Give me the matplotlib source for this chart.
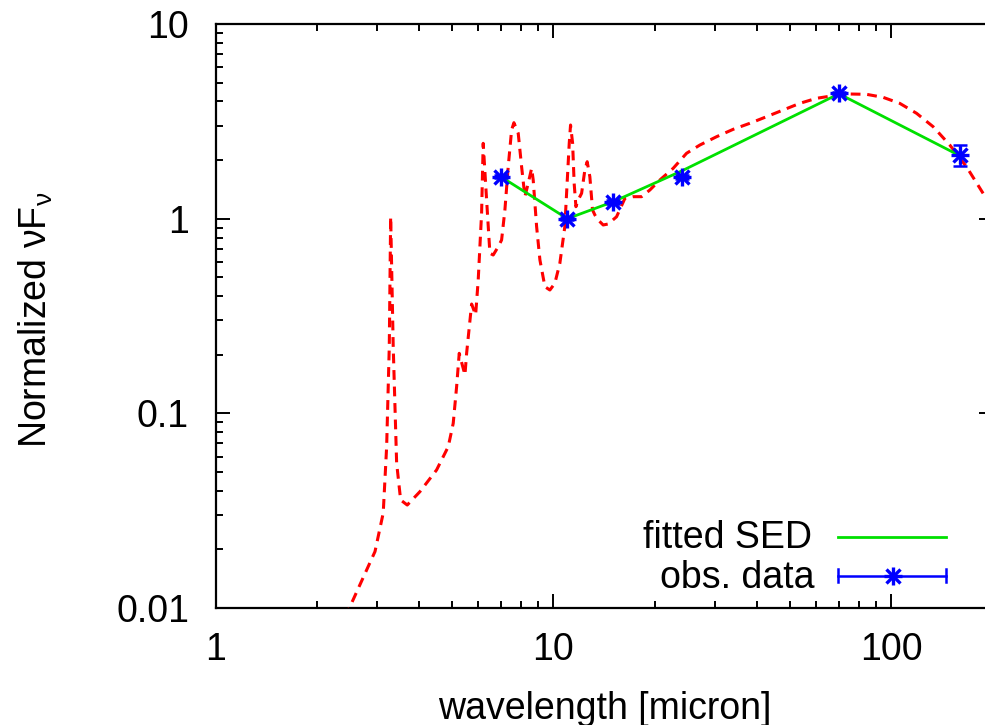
import matplotlib
matplotlib.use("Agg")
import matplotlib.pyplot as plt
from matplotlib.ticker import FuncFormatter, NullFormatter, LogLocator

plt.rcParams['font.family'] = ['Liberation Sans', 'DejaVu Sans']
plt.rcParams['mathtext.default'] = 'regular'

# model SED (red dashed)
sed_wave = [2.42, 2.50, 2.965, 3.136, 3.210, 3.268, 3.299, 3.357, 3.436, 3.531, 3.694,
            4.027, 4.512, 4.884, 5.053, 5.171, 5.264, 5.473, 5.537, 5.728, 5.886,
            5.991, 6.131, 6.198, 6.344, 6.488, 6.636, 6.866, 7.026, 7.186, 7.35,
            7.522, 7.641, 7.869, 8.052, 8.235, 8.423, 8.621, 8.715, 8.92, 9.123,
            9.438, 9.763, 10.10, 10.45, 10.81, 10.98, 11.14, 11.24, 11.40, 11.52,
            11.66, 11.84, 12.12, 12.39, 12.59, 12.82, 13.06, 13.27, 13.57, 14.04,
            14.53, 15.38, 16.28, 17.22, 18.24, 19.30, 20.66, 22.62, 24.78, 27.13,
            30.40, 34.04, 38.14, 42.74, 47.86, 53.62, 60.06, 67.27, 75.37, 84.45,
            94.56, 105.9, 118.8, 133.0, 149.0, 166.9, 186.9, 202.5]
sed_flux = [0.0090, 0.01015, 0.0195, 0.03076, 0.0674, 0.2199, 1.023, 0.2199, 0.0556, 0.0359, 0.0338,
            0.0396, 0.0512, 0.0674, 0.0889, 0.137, 0.2034, 0.1574, 0.2041, 0.3643, 0.3199,
            0.484, 1.069, 2.438, 1.247, 0.664, 0.6506, 0.7178, 0.777, 1.108, 1.849,
            2.854, 3.112, 2.745, 1.849, 1.297, 1.519, 1.814, 1.580, 0.909, 0.6133,
            0.4471, 0.430, 0.4656, 0.5899, 0.909, 1.519, 2.438, 3.028, 2.438, 1.519,
            1.152, 1.247, 1.350, 1.778, 1.962, 1.643, 1.108, 1.044, 0.984, 0.928,
            0.939, 1.023, 1.272, 1.297, 1.297, 1.404, 1.580, 1.814, 2.167, 2.389,
            2.636, 2.877, 3.090, 3.341, 3.616, 3.913, 4.152, 4.282, 4.369, 4.353,
            4.201, 3.913, 3.477, 2.968, 2.389, 1.849, 1.350, 1.082]

# fitted SED at band wavelengths (green)
band_wave = [7, 11, 15, 24, 70, 160]
fit_flux = [1.64, 1.0, 1.22, 1.76, 4.38, 2.10]

# observed data (blue)
obs_flux = [1.64, 1.0, 1.22, 1.64, 4.40, 2.12]
obs_err = [0.03, 0.02, 0.03, 0.04, 0.10, 0.26]

xticks = [1, 10, 100]
yticks = [0.01, 0.1, 1, 10]

RED = '#ff0000'
GREEN = '#00e000'
BLUE = '#0000ff'
FS = 27

fig = plt.figure(figsize=(9.85, 7.25), dpi=100)
ax = fig.add_axes([215.5/985, 117/725, 777.5/985, 584/725])
ax.set_xscale('log')
ax.set_yscale('log')
ax.set_xlim(1, 200)
ax.set_ylim(0.01, 10)

ax.plot(sed_wave, sed_flux, color=RED, lw=2.2, ls=(0, (3.2, 2.2)), zorder=3)
ax.plot(band_wave, fit_flux, color=GREEN, lw=2.0, zorder=4)
ax.errorbar(band_wave, obs_flux, yerr=obs_err, fmt='none', ecolor=BLUE,
            elinewidth=1.8, capsize=5, capthick=1.8, zorder=5)
ax.plot(band_wave, obs_flux, ls='none', marker='+', ms=13, mew=2.4, color=BLUE, zorder=6)
ax.plot(band_wave, obs_flux, ls='none', marker='x', ms=9.5, mew=2.4, color=BLUE, zorder=6)

fmt = FuncFormatter(lambda v, p: '%g' % v)
ax.set_xticks(xticks)
ax.set_yticks(yticks)
ax.xaxis.set_major_formatter(fmt)
ax.yaxis.set_major_formatter(fmt)
ax.xaxis.set_minor_locator(LogLocator(base=10, subs=range(2, 10), numticks=20))
ax.yaxis.set_minor_locator(LogLocator(base=10, subs=range(2, 10), numticks=20))
ax.xaxis.set_minor_formatter(NullFormatter())
ax.yaxis.set_minor_formatter(NullFormatter())
ax.tick_params(which='both', direction='in', top=True, right=True, width=1.4, colors='black')
ax.tick_params(which='major', length=10)
ax.tick_params(which='minor', length=5)
ax.tick_params(axis='x', which='major', labelsize=FS, pad=17)
ax.tick_params(axis='y', which='major', labelsize=FS, pad=19)
for s in ax.spines.values():
    s.set_linewidth(1.6)

ax.set_xlabel('wavelength [micron]', fontsize=FS)
ax.set_ylabel('Normalized νF$_{ν}$', fontsize=FS)
ax.xaxis.set_label_coords(0.5, -0.142)
ax.yaxis.set_label_coords(-0.207, 0.493)

# legend (gnuplot style, manual)
tr = ax.transAxes
ax.text(0.767, 0.1022, 'fitted SED', transform=tr, ha='right', va='baseline', fontsize=FS)
ax.text(0.771, 0.0342, 'obs. data', transform=tr, ha='right', va='baseline', fontsize=FS)
ax.plot([0.801, 0.940], [0.1216, 0.1216], transform=tr, color=GREEN, lw=2.0)
ax.plot([0.801, 0.940], [0.0548, 0.0548], transform=tr, color=BLUE, lw=1.8)
ax.plot([0.801, 0.801], [0.044, 0.066], transform=tr, color=BLUE, lw=1.8)
ax.plot([0.940, 0.940], [0.044, 0.066], transform=tr, color=BLUE, lw=1.8)
ax.plot([0.871], [0.0548], transform=tr, ls='none', marker='+', ms=13, mew=2.4, color=BLUE)
ax.plot([0.871], [0.0548], transform=tr, ls='none', marker='x', ms=9.5, mew=2.4, color=BLUE)

fig.savefig('out.png', dpi=100)
